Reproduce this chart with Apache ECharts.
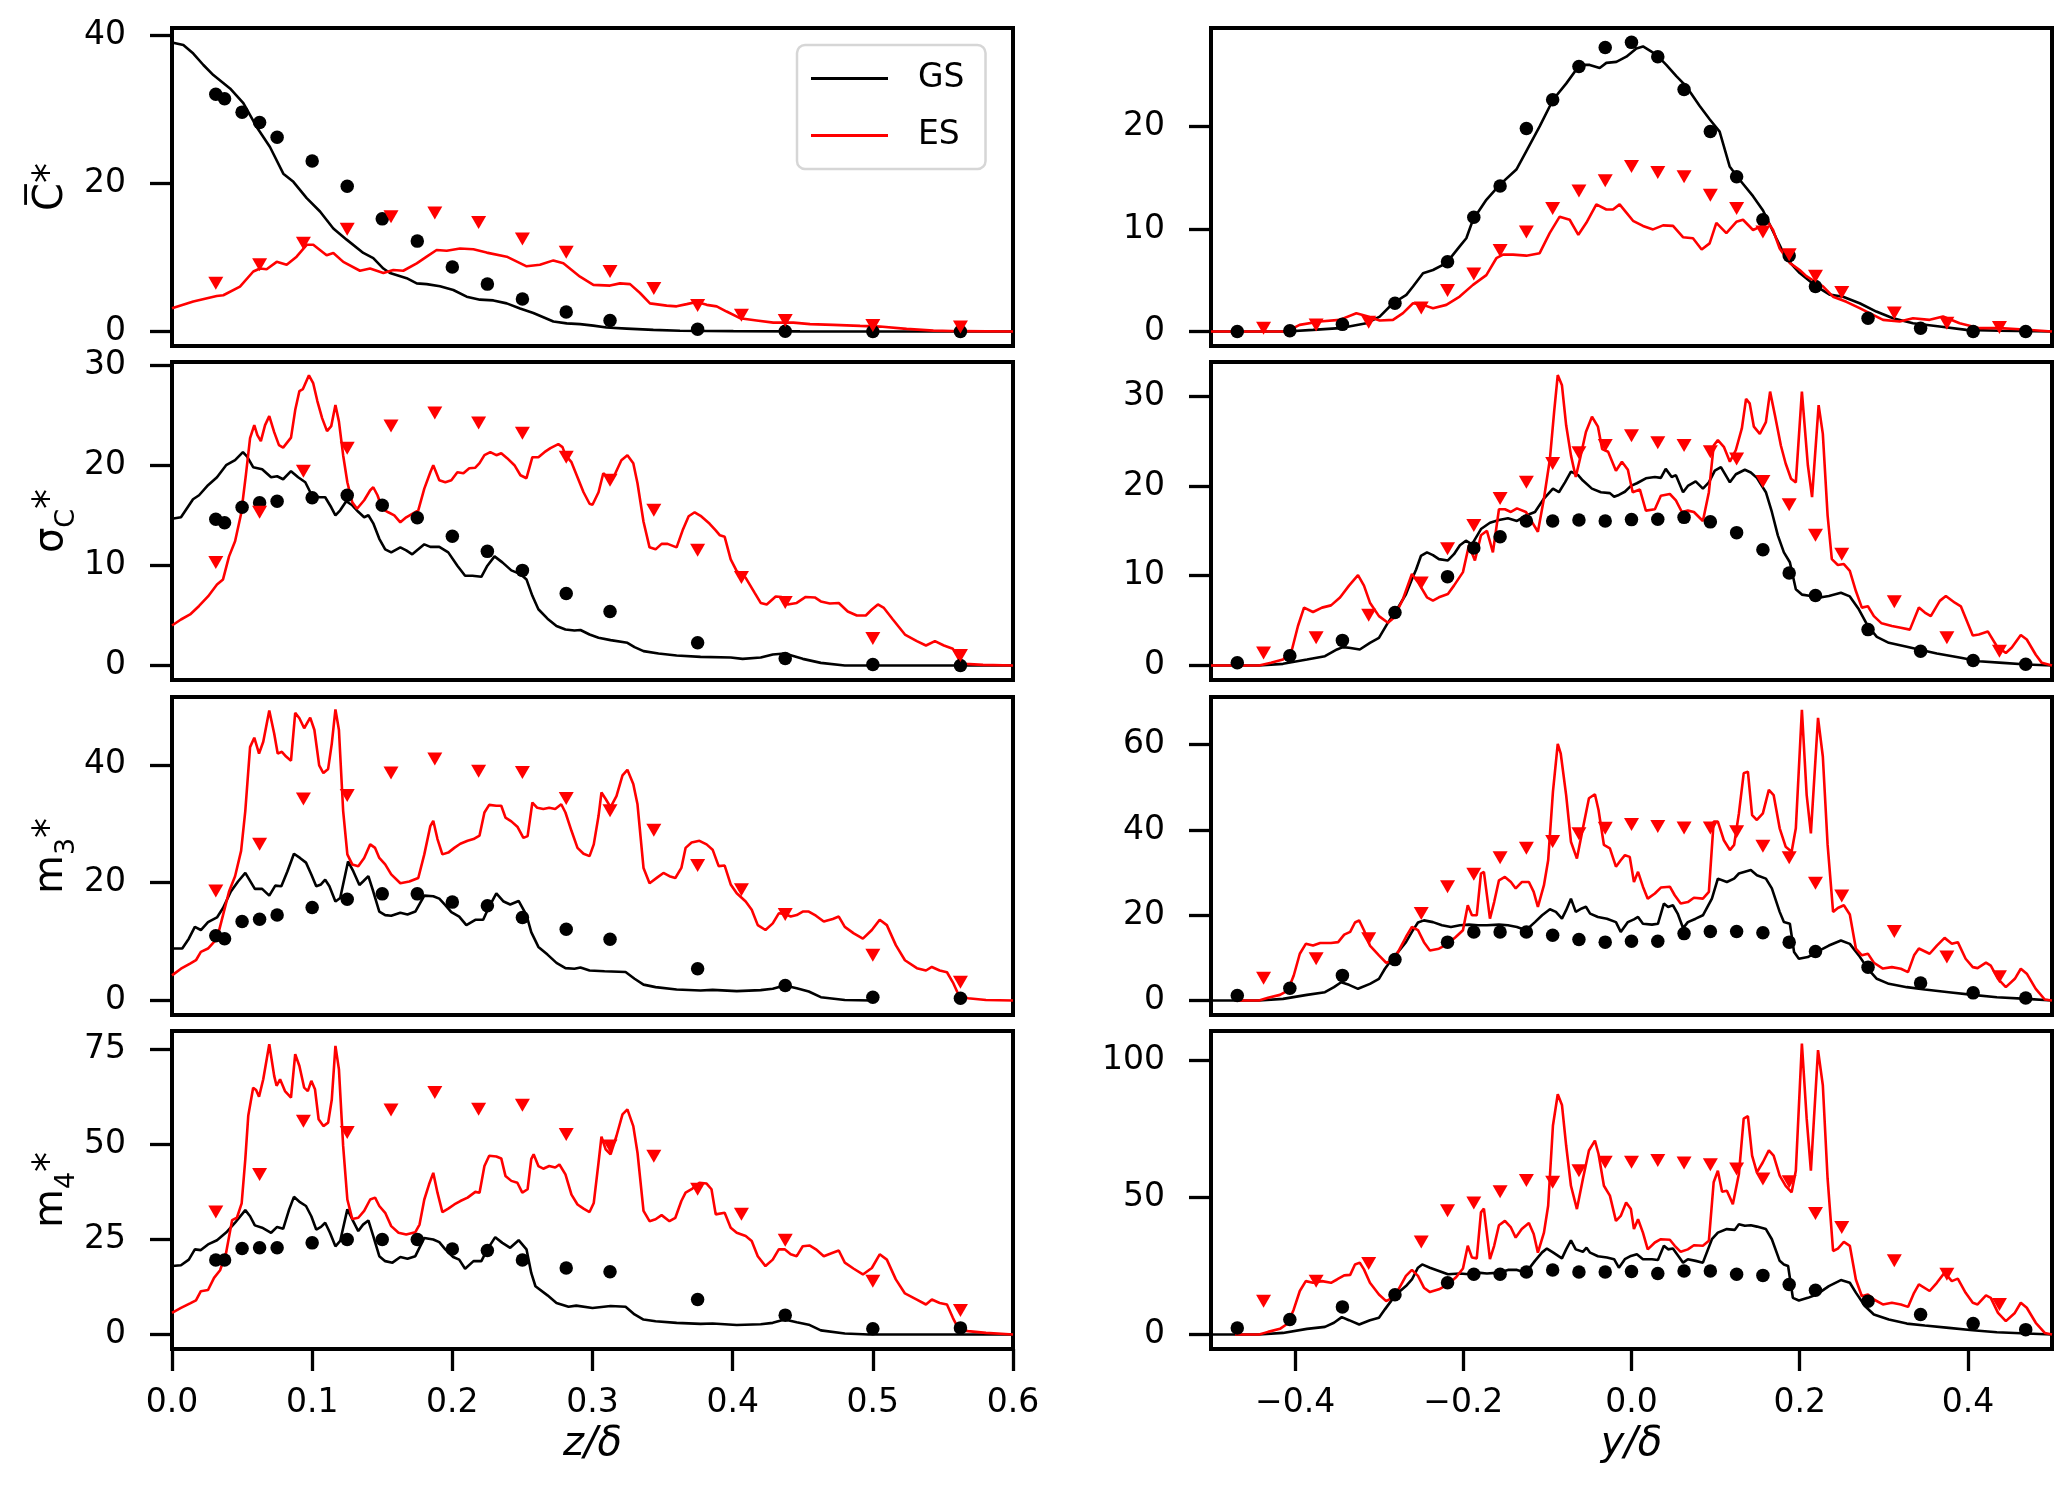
<!DOCTYPE html>
<html><head><meta charset="utf-8">
<script src="https://cdn.jsdelivr.net/npm/echarts@6/dist/echarts.min.js"></script>
<style>html,body{margin:0;padding:0;background:#fff}#c{width:2067px;height:1500px}</style>
</head><body><div id="c"></div>
<script>
// ---------- marker positions ----------
const zDots = [0.03125,0.0375,0.05,0.0625,0.075,0.1,0.125,0.15,0.175,0.2,0.225,0.25,0.28125,0.3125,0.375,0.4375,0.5,0.5625];
const zTris = [0.03125,0.0625,0.09375,0.125,0.15625,0.1875,0.21875,0.25,0.28125,0.3125,0.34375,0.375,0.40625,0.4375,0.5,0.5625];
const yDots = [-0.46875,-0.40625,-0.34375,-0.28125,-0.21875,-0.1875,-0.15625,-0.125,-0.09375,-0.0625,-0.03125,0,0.03125,0.0625,0.09375,0.125,0.15625,0.1875,0.21875,0.28125,0.34375,0.40625,0.46875];
const yTris = [-0.4375,-0.375,-0.3125,-0.25,-0.21875,-0.1875,-0.15625,-0.125,-0.09375,-0.0625,-0.03125,0,0.03125,0.0625,0.09375,0.125,0.15625,0.1875,0.21875,0.25,0.3125,0.375,0.4375];

// ---------- marker values ----------
const meanZ_dots = [32.0,31.4,29.6,28.2,26.2,23.0,19.6,15.2,12.2,8.7,6.4,4.4,2.65,1.5,0.3,0.05,0,0];
const meanZ_tris = [6.5,9.0,11.9,13.8,15.5,16.0,14.7,12.5,10.7,8.1,5.8,3.5,2.2,1.5,0.8,0.6];
const sigmaZ_dots = [14.6,14.25,15.8,16.25,16.4,16.75,17.0,16.0,14.75,12.9,11.4,9.5,7.2,5.4,2.27,0.7,0.1,0];
const sigmaZ_tris = [10.3,15.3,19.4,21.7,23.9,25.2,24.2,23.2,20.8,18.5,15.5,11.5,8.8,6.3,2.7,1.0];
const m3Z_dots = [11.0,10.5,13.4,13.8,14.5,15.8,17.2,18.1,18.1,16.7,16.1,14.1,12.1,10.4,5.4,2.56,0.57,0.4];
const m3Z_tris = [18.6,26.5,34.2,34.8,38.6,41.0,38.9,38.7,34.3,32.2,28.9,22.9,18.8,14.6,7.7,3.1];
const m4Z_dots = [19.6,19.6,22.6,22.8,22.8,24.1,25.0,25.0,25.0,22.5,22.1,19.6,17.5,16.5,9.2,5.1,1.5,1.75];
const m4Z_tris = [32.2,42.1,56.1,53.1,59.0,63.6,59.2,60.3,52.6,49.6,46.9,38.2,31.6,24.8,14.0,6.3];

const meanY_dots = [0,0.07,0.7,2.76,6.8,11.15,14.2,19.8,22.6,25.85,27.7,28.2,26.8,23.6,19.5,15.1,10.9,7.4,4.4,1.3,0.33,0,0];
const meanY_tris = [0.33,0.65,0.9,2.3,4.0,5.6,7.9,9.7,12.0,13.7,14.7,16.1,15.5,15.1,13.3,12.0,9.7,7.5,5.4,3.8,1.8,0.8,0.4];
const sigmaY_dots = [0.3,1.1,2.8,5.9,9.9,13.1,14.35,16.1,16.1,16.2,16.1,16.25,16.3,16.5,16.0,14.8,12.9,10.3,7.8,4.0,1.6,0.56,0.15];
const sigmaY_tris = [1.4,3.1,5.6,9.2,13.0,15.6,18.6,20.4,22.5,23.7,24.5,25.6,24.8,24.5,23.8,23.0,20.5,17.9,14.5,12.4,7.1,3.1,1.6];
const m3Y_dots = [1.2,2.9,5.9,9.6,13.7,16.1,16.1,16.1,15.3,14.3,13.7,13.9,13.9,15.7,16.2,16.2,15.9,13.7,11.5,7.8,4.1,1.8,0.6];
const m3Y_tris = [5.25,9.8,14.5,20.4,26.7,29.6,33.5,35.7,37.3,39.1,40.4,41.3,40.8,40.5,40.5,39.6,36.2,33.5,27.5,24.5,16.2,10.2,5.6];
const m4Y_dots = [2.4,5.5,10.1,14.5,18.9,22.0,22.0,22.8,23.6,22.8,22.8,23.0,22.3,23.2,23.2,22.0,21.6,18.3,16.2,12.2,7.3,4.0,1.8];
const m4Y_tris = [12.2,19.5,25.9,33.8,45.2,48.0,52.1,56.2,55.6,59.8,62.9,62.9,63.5,62.6,62.0,60.4,56.8,55.8,44.2,39.1,26.9,22.0,11.0];

// ---------- line profiles [x, value] ----------
const meanZ_GS = [[0,39.0],[0.0081,38.65],[0.0152,37.5],[0.0224,35.96],[0.0295,34.6],[0.0414,32.8],[0.0509,30.8],[0.0604,27.6],[0.0699,24.9],[0.0794,21.3],[0.0866,20.2],[0.0961,18.0],[0.1056,16.2],[0.1151,13.9],[0.1246,12.4],[0.1365,10.6],[0.1436,9.9],[0.1508,8.5],[0.1555,7.9],[0.1674,7.2],[0.1746,6.5],[0.1817,6.4],[0.1912,6.1],[0.2007,5.6],[0.2102,4.7],[0.2197,4.3],[0.2293,4.2],[0.2388,3.8],[0.2483,3.1],[0.2578,2.5],[0.2721,1.35],[0.2816,1.1],[0.2911,1.0],[0.3006,0.8],[0.3101,0.54],[0.3244,0.4],[0.3434,0.22],[0.3624,0.1],[0.4005,0.05],[0.448,0.02],[0.6,0]];
const meanZ_ES = [[0,3.15],[0.0152,4.05],[0.0319,4.8],[0.0366,4.9],[0.0485,6.07],[0.058,8.1],[0.0628,8.5],[0.0675,8.4],[0.0747,9.4],[0.0818,9.0],[0.0889,10.1],[0.0961,11.7],[0.1008,11.7],[0.1103,10.3],[0.1151,10.6],[0.1222,9.4],[0.1341,8.2],[0.1413,8.5],[0.1508,7.9],[0.1579,8.3],[0.165,8.2],[0.1746,9.2],[0.1817,10.1],[0.1888,11.0],[0.196,10.9],[0.2055,11.2],[0.215,11.1],[0.2245,10.65],[0.2388,10.1],[0.253,8.8],[0.2625,9.0],[0.2721,9.6],[0.2792,9.2],[0.2911,7.4],[0.3006,6.3],[0.3125,6.2],[0.3196,6.5],[0.3268,6.4],[0.3339,5.2],[0.341,3.8],[0.3529,3.5],[0.36,3.4],[0.3672,3.7],[0.3743,4.0],[0.3815,3.6],[0.3886,3.4],[0.3957,2.7],[0.4052,1.8],[0.4171,1.5],[0.429,1.2],[0.4433,1.2],[0.4552,1.0],[0.4718,0.9],[0.4909,0.76],[0.5051,0.67],[0.5241,0.36],[0.5432,0.13],[0.5622,0.05],[0.6,0]];

const sigmaZ_GS = [[0,14.65],[0.0064,14.8],[0.015,16.6],[0.0193,17.0],[0.0257,18.0],[0.0321,18.8],[0.0386,20.0],[0.045,20.5],[0.0506,21.3],[0.0536,20.85],[0.0579,19.8],[0.0643,19.6],[0.0707,18.8],[0.075,18.9],[0.0793,18.6],[0.0849,19.4],[0.09,18.8],[0.0951,18.3],[0.0994,17.1],[0.105,16.8],[0.1093,16.8],[0.1136,15.8],[0.1166,15.0],[0.12,15.5],[0.1243,16.4],[0.1286,16.0],[0.1329,15.35],[0.1371,14.8],[0.1401,15.0],[0.1436,14.2],[0.1479,12.65],[0.1521,11.6],[0.1564,11.3],[0.1629,11.8],[0.1671,11.5],[0.1714,11.1],[0.1757,11.6],[0.18,12.1],[0.1843,11.85],[0.1907,11.85],[0.1971,11.3],[0.2036,9.97],[0.2091,8.96],[0.2143,8.96],[0.2207,8.86],[0.225,9.97],[0.2301,10.9],[0.2357,10.3],[0.2421,9.5],[0.2486,9.13],[0.2529,8.6],[0.2571,6.96],[0.2614,5.62],[0.2679,4.68],[0.2743,3.95],[0.2807,3.6],[0.2871,3.5],[0.2914,3.55],[0.2979,3.1],[0.3043,2.78],[0.3129,2.54],[0.3249,2.27],[0.33,1.84],[0.3364,1.44],[0.3471,1.2],[0.36,1.0],[0.3771,0.87],[0.3986,0.8],[0.4071,0.67],[0.42,0.8],[0.4286,1.1],[0.4371,1.2],[0.45,0.67],[0.4629,0.27],[0.48,0],[0.6,0]];
const sigmaZ_ES = [[0,4.0],[0.0064,4.6],[0.0129,5.1],[0.0193,5.95],[0.0257,6.9],[0.0321,8.1],[0.0364,8.6],[0.0407,10.9],[0.045,12.4],[0.0493,15.15],[0.0527,19.0],[0.0557,22.7],[0.0587,24.0],[0.0609,23.0],[0.0634,22.4],[0.0664,24.0],[0.0694,24.9],[0.0729,23.3],[0.0763,22.0],[0.0793,21.75],[0.0849,22.75],[0.0879,25.5],[0.0909,27.4],[0.0934,27.6],[0.0977,28.97],[0.1007,28.2],[0.1037,26.4],[0.1071,24.7],[0.1106,23.4],[0.1136,23.9],[0.1166,26.0],[0.1191,24.35],[0.1221,21.0],[0.1251,18.3],[0.1286,16.3],[0.132,15.65],[0.1371,16.5],[0.1414,17.5],[0.1436,17.8],[0.1466,17.0],[0.15,15.65],[0.1543,15.3],[0.1586,15.0],[0.1629,14.3],[0.1671,14.8],[0.1714,15.15],[0.1757,15.5],[0.18,17.66],[0.1843,19.3],[0.1864,20.0],[0.1907,18.5],[0.195,18.3],[0.1993,18.5],[0.2036,19.3],[0.2079,19.2],[0.2121,19.7],[0.2164,19.75],[0.2194,20.2],[0.2229,21.0],[0.2271,21.3],[0.2314,21.0],[0.2349,21.2],[0.2391,20.7],[0.2443,20.0],[0.2486,19.0],[0.2529,18.7],[0.2571,20.8],[0.2614,20.8],[0.2657,21.3],[0.27,21.7],[0.2756,22.1],[0.2786,21.8],[0.2807,21.0],[0.285,20.3],[0.2893,18.8],[0.2936,17.3],[0.2979,16.15],[0.3,16.05],[0.3043,17.3],[0.3077,19.2],[0.3107,18.8],[0.315,18.8],[0.3206,20.5],[0.3249,21.0],[0.3291,20.2],[0.3321,18.2],[0.3364,14.35],[0.3407,11.8],[0.345,11.6],[0.3493,12.15],[0.3536,12.15],[0.36,11.8],[0.3643,13.5],[0.3686,14.9],[0.3729,15.3],[0.3771,14.95],[0.3836,14.15],[0.3879,13.5],[0.3909,13.0],[0.3943,12.85],[0.3986,10.6],[0.4029,9.43],[0.4093,8.76],[0.4157,7.25],[0.42,6.25],[0.4243,6.1],[0.4307,6.9],[0.435,6.85],[0.4393,6.1],[0.4457,6.25],[0.4521,6.85],[0.4586,6.8],[0.4629,6.4],[0.4693,6.2],[0.4757,6.25],[0.4821,5.4],[0.4886,5.0],[0.495,5.0],[0.4993,5.6],[0.5036,6.1],[0.5079,5.75],[0.5143,4.6],[0.5229,3.1],[0.5314,2.44],[0.5379,2.0],[0.5443,2.44],[0.5507,2.0],[0.5571,1.67],[0.5623,0.43],[0.5657,0.17],[0.5786,0.07],[0.6,0]];

const m3Z_GS = [[0,8.83],[0.0073,8.83],[0.012,10.5],[0.0163,12.5],[0.0206,11.97],[0.0257,13.3],[0.0321,14.1],[0.0364,15.7],[0.042,18.5],[0.0471,20.2],[0.0523,21.65],[0.0557,20.3],[0.0591,18.95],[0.0643,18.95],[0.0694,17.8],[0.0737,19.5],[0.078,19.4],[0.0823,21.9],[0.087,24.9],[0.0913,24.2],[0.0956,23.4],[0.0994,21.4],[0.1029,19.4],[0.1063,19.7],[0.1093,20.5],[0.1123,19.4],[0.1166,16.8],[0.12,17.4],[0.1256,23.6],[0.1294,21.9],[0.1337,19.6],[0.1363,20.2],[0.1401,21.1],[0.1436,18.5],[0.1479,15.1],[0.1521,14.5],[0.1564,14.4],[0.1629,14.9],[0.168,14.6],[0.1736,15.1],[0.18,17.8],[0.1864,17.7],[0.1907,17.3],[0.195,16.2],[0.1993,15.0],[0.2049,14.25],[0.21,12.8],[0.2164,13.7],[0.222,13.7],[0.2263,15.95],[0.2314,18.2],[0.2366,16.8],[0.2413,16.3],[0.2473,16.9],[0.2529,14.5],[0.2563,11.6],[0.2614,9.1],[0.2679,7.8],[0.2743,6.4],[0.2807,5.5],[0.2871,5.4],[0.2914,5.6],[0.2979,5.1],[0.3086,4.96],[0.3236,4.84],[0.33,3.7],[0.3364,2.7],[0.345,2.28],[0.36,1.88],[0.3771,1.71],[0.3857,1.82],[0.4029,1.6],[0.42,1.77],[0.4286,2.0],[0.4371,2.56],[0.4457,2.1],[0.4543,1.54],[0.4629,0.57],[0.48,0.1],[0.4993,0]];
const m3Z_ES = [[0,4.27],[0.0064,5.41],[0.0129,6.27],[0.0171,6.84],[0.0206,8.26],[0.0257,8.83],[0.0321,10.5],[0.0364,14.5],[0.0407,18.5],[0.045,21.1],[0.0493,25.4],[0.0523,32.2],[0.0557,43.0],[0.0587,44.6],[0.0621,41.9],[0.0651,43.9],[0.0694,49.2],[0.0729,45.3],[0.0754,41.9],[0.0784,42.2],[0.0814,41.4],[0.0849,40.7],[0.0879,48.8],[0.0909,47.9],[0.0943,46.2],[0.0986,48.0],[0.1016,45.9],[0.105,39.9],[0.108,38.6],[0.1114,39.3],[0.114,43.6],[0.1166,49.4],[0.1191,45.9],[0.1221,32.2],[0.1251,24.8],[0.1286,23.1],[0.1329,22.8],[0.1371,24.2],[0.1414,26.5],[0.1449,25.9],[0.1479,24.2],[0.1521,23.1],[0.1564,21.4],[0.1629,19.9],[0.1693,20.2],[0.1757,20.8],[0.18,24.8],[0.1843,29.6],[0.1864,30.5],[0.1894,27.4],[0.1929,24.8],[0.1971,25.1],[0.2014,25.9],[0.2057,26.6],[0.2109,27.1],[0.2151,27.4],[0.2194,28.0],[0.2229,31.9],[0.2263,33.2],[0.2314,33.05],[0.2349,33.05],[0.2379,31.05],[0.2421,30.4],[0.2464,29.5],[0.2507,27.6],[0.2537,27.9],[0.2571,33.6],[0.2606,32.7],[0.2649,32.5],[0.2691,32.7],[0.2734,32.5],[0.2777,33.3],[0.2807,31.9],[0.285,28.8],[0.2893,25.9],[0.2936,24.9],[0.2979,24.5],[0.3009,26.5],[0.3043,31.3],[0.3064,35.3],[0.3094,34.2],[0.3129,32.8],[0.3171,34.7],[0.3214,38.2],[0.3249,39.15],[0.3291,36.75],[0.3321,33.3],[0.3364,22.5],[0.3407,19.9],[0.3463,20.9],[0.3506,21.65],[0.3549,21.1],[0.3591,20.8],[0.3634,22.5],[0.3664,25.9],[0.3707,26.8],[0.3763,27.1],[0.3814,26.5],[0.3857,25.6],[0.39,22.8],[0.3943,22.9],[0.3986,19.7],[0.4029,18.2],[0.4093,16.8],[0.4136,15.4],[0.4179,12.8],[0.4234,11.97],[0.4286,13.1],[0.4329,14.8],[0.4371,14.7],[0.4414,14.25],[0.4457,14.5],[0.45,15.1],[0.4543,15.1],[0.4594,14.4],[0.465,13.4],[0.4714,13.85],[0.4757,14.25],[0.48,12.5],[0.4864,11.4],[0.4929,10.5],[0.4993,11.97],[0.5049,13.7],[0.51,12.8],[0.5164,9.4],[0.5229,6.84],[0.5314,5.5],[0.5379,5.1],[0.5421,5.7],[0.5477,5.1],[0.5529,4.8],[0.5571,3.1],[0.5614,0.85],[0.5679,0.4],[0.5807,0.1],[0.6,0]];

const m4Z_GS = [[0,18.0],[0.0064,18.2],[0.012,19.7],[0.0163,22.4],[0.0206,22.2],[0.0257,23.7],[0.0321,24.8],[0.0386,26.8],[0.045,29.4],[0.0523,32.7],[0.0557,31.1],[0.0591,28.7],[0.0643,28.1],[0.0707,26.75],[0.075,28.3],[0.0793,27.8],[0.0836,32.9],[0.087,36.2],[0.0913,34.8],[0.0956,33.8],[0.0994,31.1],[0.1029,27.6],[0.1063,28.3],[0.1093,29.4],[0.1127,26.75],[0.1166,23.2],[0.12,24.6],[0.1251,32.9],[0.1286,30.3],[0.1329,27.2],[0.1363,28.9],[0.1401,30.0],[0.1436,25.9],[0.1479,20.6],[0.1521,19.3],[0.1573,18.9],[0.1629,20.4],[0.168,19.9],[0.1736,20.6],[0.18,25.4],[0.1864,25.0],[0.1907,24.3],[0.195,22.4],[0.2006,20.4],[0.2049,19.7],[0.2091,17.3],[0.2151,19.3],[0.2207,19.3],[0.225,22.4],[0.2306,25.6],[0.2357,24.1],[0.2413,22.8],[0.2473,24.8],[0.2529,22.4],[0.2563,16.2],[0.2593,12.7],[0.2679,10.3],[0.2743,8.3],[0.2829,7.3],[0.2884,7.6],[0.3,7.0],[0.3129,7.5],[0.3236,7.3],[0.33,5.3],[0.3364,3.95],[0.345,3.5],[0.36,3.07],[0.3771,2.8],[0.3857,2.9],[0.4029,2.5],[0.42,2.7],[0.4286,3.07],[0.4371,3.95],[0.4457,3.25],[0.4543,2.6],[0.4629,1.1],[0.48,0.26],[0.4971,0],[0.6,0]];
const m4Z_ES = [[0,5.7],[0.0064,7.0],[0.0129,8.2],[0.0171,9.0],[0.0206,11.4],[0.0257,11.7],[0.03,14.9],[0.0343,16.9],[0.0386,21.5],[0.0429,30.1],[0.0463,30.7],[0.0497,34.5],[0.0523,46.1],[0.0544,57.5],[0.0579,64.9],[0.06,64.3],[0.0621,62.5],[0.0651,67.1],[0.0694,76.3],[0.0729,68.0],[0.0746,65.4],[0.0771,67.1],[0.0806,64.0],[0.0849,62.3],[0.0879,73.7],[0.0909,70.6],[0.0943,64.9],[0.0969,64.0],[0.0994,66.7],[0.102,64.5],[0.1046,56.6],[0.108,54.8],[0.1114,55.7],[0.114,61.8],[0.1166,75.9],[0.1191,69.7],[0.1221,49.6],[0.1251,35.5],[0.1286,30.4],[0.1329,30.7],[0.1371,32.5],[0.1414,35.5],[0.1449,36.0],[0.1479,33.8],[0.1521,32.0],[0.1564,28.5],[0.1616,26.75],[0.1671,26.3],[0.1736,26.9],[0.1766,28.9],[0.18,35.5],[0.1834,39.5],[0.1864,42.5],[0.1894,37.3],[0.1929,32.2],[0.1971,33.1],[0.2014,34.2],[0.2057,35.1],[0.2109,36.0],[0.2164,37.5],[0.2194,37.3],[0.2229,44.3],[0.2263,47.0],[0.2314,46.8],[0.2349,46.3],[0.2379,41.7],[0.2421,40.4],[0.2464,39.9],[0.2499,37.3],[0.2537,38.2],[0.2563,46.1],[0.258,47.4],[0.2614,44.3],[0.2649,43.6],[0.2691,44.3],[0.2734,43.9],[0.2764,44.7],[0.2807,42.1],[0.285,36.8],[0.2893,34.2],[0.2936,33.1],[0.2979,32.2],[0.3009,34.6],[0.3043,45.2],[0.3064,52.0],[0.3094,48.7],[0.3129,47.4],[0.3171,52.2],[0.3214,57.9],[0.3249,59.2],[0.3291,54.8],[0.3321,47.8],[0.3364,32.5],[0.3407,29.8],[0.345,30.3],[0.3493,31.4],[0.3549,29.8],[0.3591,30.7],[0.3634,35.1],[0.3664,37.3],[0.3707,38.2],[0.3763,39.9],[0.3814,39.7],[0.3849,38.2],[0.3879,31.6],[0.3943,32.0],[0.3986,28.1],[0.4029,26.75],[0.4093,25.9],[0.4136,24.6],[0.4179,20.6],[0.4234,18.0],[0.4286,19.7],[0.4329,22.4],[0.4371,22.4],[0.4414,21.1],[0.4457,20.6],[0.45,23.2],[0.4551,23.4],[0.4594,22.4],[0.465,20.6],[0.4714,21.5],[0.4757,22.1],[0.48,18.9],[0.4864,17.3],[0.4929,15.8],[0.4993,17.5],[0.5049,21.1],[0.51,19.7],[0.5164,14.5],[0.5229,10.8],[0.5314,9.2],[0.5379,7.9],[0.5421,9.2],[0.5477,8.3],[0.5529,7.9],[0.5571,4.4],[0.5614,1.3],[0.5679,0.9],[0.5807,0.44],[0.6,0]];

const meanY_GS = [[-0.5,0],[-0.4104,0],[-0.3787,0.16],[-0.347,0.33],[-0.3153,0.81],[-0.2994,1.46],[-0.2836,2.76],[-0.2677,3.58],[-0.2598,4.39],[-0.2479,5.69],[-0.236,6.0],[-0.2202,6.67],[-0.2043,8.3],[-0.1964,9.1],[-0.1885,10.9],[-0.1726,12.85],[-0.1568,14.3],[-0.1369,15.8],[-0.125,17.6],[-0.1092,20.0],[-0.0933,22.6],[-0.0775,24.2],[-0.0617,26.0],[-0.0497,26.0],[-0.0378,25.7],[-0.0299,26.2],[-0.018,26.3],[-0.0061,26.8],[0.0058,27.6],[0.0137,27.8],[0.0295,27.0],[0.0414,26.0],[0.0533,24.9],[0.0652,23.9],[0.0811,22.0],[0.0929,20.7],[0.1048,19.5],[0.1167,16.1],[0.1286,14.8],[0.1445,13.2],[0.1564,11.8],[0.1722,9.1],[0.1841,7.1],[0.2,5.7],[0.2198,4.4],[0.2356,3.6],[0.2515,3.4],[0.2713,2.76],[0.2911,1.95],[0.3109,1.3],[0.3347,0.81],[0.3664,0.49],[0.3981,0.16],[0.4378,0.07],[0.5,0]];
const meanY_ES = [[-0.5,0],[-0.4104,0],[-0.3946,0.65],[-0.3708,0.98],[-0.347,1.14],[-0.3272,1.79],[-0.3153,1.52],[-0.2994,1.07],[-0.2836,1.14],[-0.2717,1.79],[-0.2598,2.76],[-0.2479,2.6],[-0.236,2.28],[-0.2202,2.6],[-0.2043,3.41],[-0.1885,4.55],[-0.1726,5.5],[-0.1607,7.15],[-0.1528,7.5],[-0.1409,7.5],[-0.125,7.4],[-0.1092,7.64],[-0.0973,9.6],[-0.0854,11.2],[-0.0735,10.9],[-0.0632,9.43],[-0.0537,10.6],[-0.0418,12.4],[-0.0299,11.9],[-0.022,11.9],[-0.0141,12.4],[-0.0061,11.6],[0.0018,10.8],[0.0137,10.3],[0.0256,9.96],[0.0375,10.35],[0.0494,10.3],[0.0612,9.2],[0.0731,9.1],[0.0834,8.0],[0.0929,8.6],[0.1009,10.6],[0.1128,9.6],[0.1247,10.7],[0.1326,10.9],[0.1445,9.9],[0.154,10.25],[0.1603,10.9],[0.1683,9.9],[0.1762,8.1],[0.1881,6.7],[0.2,6.0],[0.2079,5.4],[0.2158,5.0],[0.2277,4.4],[0.2396,3.4],[0.2555,2.9],[0.2713,2.28],[0.2872,1.63],[0.2991,1.14],[0.3189,0.98],[0.3347,1.3],[0.3545,1.14],[0.3704,1.46],[0.3902,0.81],[0.414,0.33],[0.4378,0.33],[0.4616,0.23],[0.5,0]];

const sigmaY_GS = [[-0.5,0],[-0.4429,0],[-0.4144,0.19],[-0.3859,0.67],[-0.3645,1.04],[-0.3502,1.79],[-0.3431,2.05],[-0.3359,1.98],[-0.3231,1.79],[-0.311,2.53],[-0.3003,3.09],[-0.2896,4.77],[-0.2789,6.26],[-0.2682,7.94],[-0.2611,9.6],[-0.2561,10.7],[-0.2504,12.2],[-0.2432,12.6],[-0.2361,12.3],[-0.229,11.85],[-0.2183,11.7],[-0.2111,12.4],[-0.204,13.4],[-0.1969,13.9],[-0.1897,13.5],[-0.179,15.2],[-0.1683,15.9],[-0.1576,16.2],[-0.1469,16.4],[-0.1362,16.1],[-0.1255,16.7],[-0.1148,17.1],[-0.1041,18.6],[-0.0934,19.7],[-0.0863,19.3],[-0.0791,20.4],[-0.072,21.6],[-0.0635,21.2],[-0.0578,20.6],[-0.0471,19.7],[-0.0364,19.3],[-0.0257,19.2],[-0.0207,18.8],[-0.015,19.0],[-0.0079,19.35],[-0.0007,20.0],[0.0064,20.3],[0.0171,20.85],[0.0278,21.0],[0.0349,20.9],[0.0407,21.9],[0.0478,21.0],[0.0528,21.2],[0.0613,19.3],[0.067,20.0],[0.0763,20.5],[0.0849,19.7],[0.092,20.4],[0.0991,21.7],[0.1063,22.1],[0.117,20.4],[0.1241,21.3],[0.1348,21.8],[0.1419,21.5],[0.1491,20.9],[0.1598,19.3],[0.1669,17.1],[0.174,14.5],[0.1812,12.6],[0.1883,11.5],[0.1954,8.5],[0.2026,7.9],[0.2133,7.75],[0.224,7.57],[0.2347,7.75],[0.249,8.1],[0.2596,7.7],[0.2703,6.26],[0.2811,4.4],[0.2917,3.2],[0.306,2.53],[0.3274,2.09],[0.3417,1.79],[0.3631,1.34],[0.3916,0.86],[0.413,0.48],[0.4415,0.3],[0.47,0.11],[0.5,0]];
const sigmaY_ES = [[-0.5,0],[-0.4429,0],[-0.4287,0.3],[-0.4144,0.67],[-0.4037,1.79],[-0.3966,4.4],[-0.3894,6.45],[-0.3787,5.96],[-0.368,6.45],[-0.3573,6.7],[-0.3466,7.57],[-0.3359,8.9],[-0.3252,10.06],[-0.3181,8.9],[-0.311,7.0],[-0.3003,5.5],[-0.2896,4.77],[-0.2825,5.33],[-0.2718,7.38],[-0.2611,10.2],[-0.2539,9.28],[-0.2432,7.6],[-0.2361,7.23],[-0.229,7.6],[-0.2183,7.97],[-0.2111,8.9],[-0.2004,10.4],[-0.1933,13.4],[-0.1862,11.7],[-0.179,14.5],[-0.1719,15.0],[-0.1648,12.6],[-0.1576,17.4],[-0.1505,17.4],[-0.1434,17.1],[-0.1362,17.5],[-0.1255,17.1],[-0.1184,16.0],[-0.1113,14.9],[-0.1041,18.6],[-0.097,23.0],[-0.092,28.25],[-0.0877,32.35],[-0.0827,31.2],[-0.0777,26.75],[-0.072,23.4],[-0.0663,21.0],[-0.0613,23.0],[-0.0542,26.0],[-0.047,27.7],[-0.0399,26.6],[-0.0349,24.1],[-0.0278,23.8],[-0.0185,21.7],[-0.0114,22.7],[-0.0043,21.8],[0.0014,19.3],[0.01,19.6],[0.0171,17.25],[0.0278,17.4],[0.0349,18.9],[0.0456,19.1],[0.0528,18.4],[0.0599,17.1],[0.067,17.25],[0.0742,17.1],[0.0849,16.1],[0.092,19.3],[0.0977,24.5],[0.1027,25.1],[0.1098,24.35],[0.117,22.7],[0.1241,24.0],[0.1312,26.4],[0.1362,29.7],[0.1405,29.2],[0.1455,26.6],[0.1526,25.8],[0.1598,27.1],[0.1648,30.5],[0.1705,27.9],[0.1776,24.5],[0.1833,22.5],[0.1897,20.8],[0.1954,20.4],[0.2026,30.5],[0.2097,22.3],[0.2147,18.75],[0.2225,29.0],[0.2275,25.8],[0.2332,16.7],[0.2382,11.85],[0.2454,11.2],[0.2525,11.3],[0.2596,10.55],[0.2668,8.3],[0.2739,6.45],[0.2811,6.6],[0.2882,5.5],[0.2974,4.7],[0.3096,4.4],[0.3203,4.2],[0.331,4.0],[0.3417,6.45],[0.3488,5.9],[0.3559,5.5],[0.3666,7.2],[0.3738,7.75],[0.3845,7.0],[0.3916,6.6],[0.4058,3.35],[0.413,3.46],[0.4237,3.8],[0.4344,2.15],[0.4451,1.4],[0.4522,2.0],[0.4629,3.4],[0.47,2.9],[0.4807,1.2],[0.4879,0.3],[0.5,0]];

const m3Y_GS = [[-0.5,0],[-0.4429,0],[-0.4144,0.39],[-0.3859,1.33],[-0.3645,1.96],[-0.3538,3.14],[-0.3452,4.3],[-0.3359,3.69],[-0.3252,2.75],[-0.311,3.92],[-0.3003,5.1],[-0.2932,7.45],[-0.286,9.4],[-0.2775,11.4],[-0.2682,13.7],[-0.2611,16.1],[-0.2539,18.3],[-0.2468,18.8],[-0.2361,18.4],[-0.2254,17.65],[-0.2147,17.25],[-0.204,17.65],[-0.1933,17.8],[-0.1826,17.65],[-0.1719,17.65],[-0.1576,17.8],[-0.1469,17.65],[-0.1362,17.25],[-0.1255,16.5],[-0.1148,18.4],[-0.1063,20.0],[-0.097,21.4],[-0.0899,20.8],[-0.0827,19.2],[-0.0777,21.2],[-0.072,23.9],[-0.0663,20.8],[-0.0592,21.6],[-0.0542,22.0],[-0.0492,20.4],[-0.0399,19.6],[-0.0292,19.2],[-0.0185,18.4],[-0.0128,16.1],[-0.0043,18.4],[0.0029,19.05],[0.0078,19.6],[0.0136,18.0],[0.0243,17.8],[0.0314,18.0],[0.0385,22.75],[0.0435,21.96],[0.0492,22.35],[0.0549,20.4],[0.0613,17.0],[0.067,18.4],[0.0763,19.2],[0.0849,20.0],[0.0956,23.9],[0.1027,28.6],[0.1134,27.8],[0.122,28.6],[0.1277,29.8],[0.1348,30.2],[0.1419,30.6],[0.1491,29.4],[0.1598,28.6],[0.1669,26.3],[0.1762,20.8],[0.1812,18.4],[0.1883,18.0],[0.1933,11.4],[0.199,9.8],[0.2097,10.2],[0.2204,11.4],[0.2347,12.9],[0.249,14.1],[0.2596,13.3],[0.2703,10.6],[0.2811,7.45],[0.2917,5.1],[0.306,3.92],[0.3274,3.14],[0.3488,2.6],[0.3773,1.96],[0.4058,1.33],[0.4344,0.78],[0.47,0.39],[0.5,0]];
const m3Y_ES = [[-0.4715,0],[-0.4429,0],[-0.4322,0.63],[-0.418,1.33],[-0.4087,2.35],[-0.4016,5.88],[-0.3944,10.98],[-0.3873,13.3],[-0.3787,12.9],[-0.3702,13.5],[-0.3573,13.5],[-0.3488,13.7],[-0.3416,15.45],[-0.3345,16.1],[-0.3288,18.3],[-0.3238,18.8],[-0.3181,16.5],[-0.311,12.9],[-0.3003,10.6],[-0.2917,8.86],[-0.2846,9.4],[-0.2775,11.4],[-0.2682,14.9],[-0.2611,17.25],[-0.2539,16.5],[-0.2468,13.7],[-0.2397,11.76],[-0.229,12.16],[-0.2183,13.3],[-0.209,14.9],[-0.2004,16.5],[-0.1947,22.35],[-0.1897,20.0],[-0.184,20.0],[-0.179,29.8],[-0.1755,30.2],[-0.1683,19.2],[-0.1633,23.1],[-0.1576,28.2],[-0.1505,29.0],[-0.1434,27.8],[-0.1377,26.3],[-0.1305,27.8],[-0.122,27.8],[-0.1163,25.5],[-0.1113,21.96],[-0.1041,27.06],[-0.0991,32.9],[-0.0934,49.0],[-0.0877,60.2],[-0.0842,58.0],[-0.0777,48.2],[-0.072,37.25],[-0.0649,33.3],[-0.0578,40.4],[-0.0506,47.45],[-0.0435,48.4],[-0.0392,44.7],[-0.0328,36.5],[-0.0257,35.7],[-0.0185,31.4],[-0.0128,32.9],[-0.0078,34.1],[-0.0021,33.7],[0.0029,27.8],[0.0078,30.2],[0.0136,26.7],[0.0193,23.9],[0.0278,25.1],[0.0349,26.5],[0.0456,26.7],[0.0514,24.7],[0.0585,22.75],[0.067,23.1],[0.0742,24.1],[0.0849,23.9],[0.092,25.5],[0.0977,41.96],[0.1027,41.96],[0.1098,37.6],[0.117,35.3],[0.122,36.5],[0.1277,43.9],[0.1334,53.3],[0.1384,53.7],[0.1434,43.5],[0.1491,42.35],[0.1562,43.9],[0.1633,49.4],[0.169,48.2],[0.1762,40.4],[0.1833,36.1],[0.1904,34.9],[0.1954,40.4],[0.2026,68.2],[0.2083,48.2],[0.2133,39.2],[0.2218,66.3],[0.2275,57.25],[0.2332,36.5],[0.2397,20.8],[0.2454,21.7],[0.2525,22.35],[0.2596,20.2],[0.2668,12.2],[0.2739,10.6],[0.2811,11.0],[0.2882,8.86],[0.2989,7.5],[0.3096,7.84],[0.3203,7.45],[0.3288,6.67],[0.336,10.6],[0.3417,12.2],[0.3545,10.98],[0.3631,12.9],[0.3723,14.7],[0.3809,13.3],[0.388,13.7],[0.3973,9.8],[0.4058,7.84],[0.4115,7.6],[0.4215,8.9],[0.4272,8.2],[0.4358,5.1],[0.4451,3.14],[0.4558,5.1],[0.4629,7.45],[0.47,6.3],[0.4807,2.75],[0.4914,0.24],[0.5,0]];

const m4Y_GS = [[-0.5,0],[-0.4429,0],[-0.4144,0.6],[-0.3859,2.08],[-0.3645,2.8],[-0.3538,4.3],[-0.3445,6.35],[-0.3359,5.25],[-0.3238,3.66],[-0.311,5.25],[-0.3003,6.1],[-0.2932,9.2],[-0.286,12.2],[-0.2775,15.3],[-0.2682,17.7],[-0.2611,20.1],[-0.2539,24.4],[-0.2489,25.6],[-0.2397,24.4],[-0.229,23.2],[-0.2183,22.0],[-0.204,22.3],[-0.1933,22.0],[-0.1826,22.6],[-0.1719,22.3],[-0.1576,22.6],[-0.1469,23.6],[-0.1362,23.6],[-0.1255,22.6],[-0.1148,26.9],[-0.1063,30.0],[-0.1006,31.4],[-0.0934,30.0],[-0.0827,27.8],[-0.0777,31.1],[-0.072,34.4],[-0.0663,31.1],[-0.0578,30.2],[-0.0535,31.7],[-0.0492,29.9],[-0.0399,28.6],[-0.0292,28.1],[-0.0207,27.5],[-0.015,24.4],[-0.0079,27.5],[-0.0007,28.7],[0.0064,29.3],[0.0136,27.5],[0.0243,27.5],[0.0314,27.2],[0.0385,32.4],[0.0435,31.1],[0.0492,31.4],[0.0563,28.4],[0.0613,26.25],[0.067,27.5],[0.0763,26.9],[0.0849,26.25],[0.0956,34.8],[0.1027,37.2],[0.1134,38.5],[0.1227,38.2],[0.1277,40.3],[0.1348,39.7],[0.1419,39.9],[0.1491,39.4],[0.1598,38.5],[0.1669,34.8],[0.1762,26.9],[0.1812,25.6],[0.1862,25.0],[0.1919,13.4],[0.199,12.45],[0.2097,13.4],[0.2204,14.65],[0.2347,17.7],[0.249,19.9],[0.2596,18.9],[0.2668,15.3],[0.2775,10.4],[0.2882,7.3],[0.306,5.5],[0.3274,4.0],[0.3488,3.3],[0.3773,2.44],[0.4058,1.6],[0.4344,0.85],[0.47,0.37],[0.5,0]];
const m4Y_ES = [[-0.4715,0],[-0.4429,0],[-0.4322,0.98],[-0.418,2.08],[-0.4087,4.03],[-0.4016,9.16],[-0.3944,15.9],[-0.3873,19.5],[-0.3787,18.9],[-0.368,19.5],[-0.3573,18.9],[-0.3502,20.1],[-0.3416,21.6],[-0.3345,21.8],[-0.3288,25.6],[-0.3231,26.25],[-0.3181,23.8],[-0.311,18.9],[-0.3003,14.65],[-0.2917,12.2],[-0.2846,13.4],[-0.2775,16.2],[-0.2682,21.4],[-0.2611,23.6],[-0.2539,21.4],[-0.2468,17.1],[-0.2397,15.5],[-0.229,16.5],[-0.2183,18.3],[-0.209,20.8],[-0.2004,24.1],[-0.1947,32.4],[-0.1897,28.1],[-0.184,27.8],[-0.179,44.6],[-0.1755,46.0],[-0.1683,27.5],[-0.1633,32.4],[-0.1576,39.9],[-0.1505,41.5],[-0.1434,39.1],[-0.1377,35.4],[-0.1305,38.5],[-0.122,40.7],[-0.1163,36.7],[-0.1113,29.9],[-0.1041,37.2],[-0.0991,47.0],[-0.0934,76.3],[-0.0877,87.7],[-0.0827,83.8],[-0.0777,69.0],[-0.072,54.3],[-0.0649,45.8],[-0.0578,56.8],[-0.0506,67.2],[-0.0435,70.8],[-0.0392,65.9],[-0.0328,54.3],[-0.0257,50.7],[-0.0185,41.5],[-0.0128,43.3],[-0.0064,48.2],[-0.0007,45.8],[0.0029,38.5],[0.0078,42.1],[0.0136,37.2],[0.0193,31.1],[0.0278,33.6],[0.0349,34.8],[0.0456,34.6],[0.0514,32.4],[0.0585,30.2],[0.067,31.1],[0.0742,32.6],[0.0849,32.4],[0.092,34.2],[0.0977,55.6],[0.1027,59.8],[0.1077,52.1],[0.1134,52.5],[0.1205,47.6],[0.1277,58.6],[0.1334,78.8],[0.1384,79.7],[0.1434,65.3],[0.1491,59.2],[0.1562,62.9],[0.1633,67.2],[0.169,65.3],[0.1762,58.0],[0.1833,54.3],[0.1904,51.9],[0.1954,59.8],[0.2026,106.2],[0.2083,78.8],[0.2133,59.8],[0.2218,103.8],[0.2275,91.0],[0.2332,56.8],[0.2397,30.5],[0.2454,31.4],[0.2525,33.8],[0.2596,32.4],[0.2668,20.1],[0.2739,14.0],[0.2811,14.65],[0.2882,12.8],[0.2989,11.0],[0.3096,11.6],[0.3203,11.0],[0.3288,10.1],[0.336,15.25],[0.3417,18.3],[0.3545,15.9],[0.3631,18.9],[0.3723,22.6],[0.3809,19.5],[0.388,20.4],[0.3973,15.25],[0.4058,11.6],[0.4115,11.0],[0.4215,14.3],[0.4272,13.4],[0.4358,7.9],[0.4451,4.9],[0.4558,7.9],[0.4629,11.6],[0.47,9.8],[0.4807,4.3],[0.4914,0.6],[0.5,0]];

// ---------- tick labels ----------
const zTicks = [0,0.1,0.2,0.3,0.4,0.5,0.6];
const yTicks = [-0.4,-0.2,0,0.2,0.4];
const yTicksRows = [[0,20,40],[0,10,20,30],[0,20,40],[0,25,50,75]];
const yTicksRowsR = [[0,10,20],[0,10,20,30],[0,20,40,60],[0,50,100]];

// ---------- layout ----------
const FONT = 'DejaVu Sans';
const colLeft = [172, 1211], gridW = 841, rowTop = [28, 362, 697, 1031], gridH = 318;
const zip = (xs, vs) => xs.map((x, i) => [x, vs[i]]);

const panels = [
  {row:0,col:0,gs:meanZ_GS,es:meanZ_ES,dx:zDots,dv:meanZ_dots,tx:zTris,tv:meanZ_tris,yr:[-1.95,40.95],yt:yTicksRows[0],name:'{a|C\u0305*}'},
  {row:0,col:1,gs:meanY_GS,es:meanY_ES,dx:yDots,dv:meanY_dots,tx:yTris,tv:meanY_tris,yr:[-1.41,29.6],yt:yTicksRowsR[0]},
  {row:1,col:0,gs:sigmaZ_GS,es:sigmaZ_ES,dx:zDots,dv:sigmaZ_dots,tx:zTris,tv:sigmaZ_tris,yr:[-1.44,30.3],yt:yTicksRows[1],name:'{a|σ}{s|C}{a|*}'},
  {row:1,col:1,gs:sigmaY_GS,es:sigmaY_ES,dx:yDots,dv:sigmaY_dots,tx:yTris,tv:sigmaY_tris,yr:[-1.61,33.8],yt:yTicksRowsR[1]},
  {row:2,col:0,gs:m3Z_GS,es:m3Z_ES,dx:zDots,dv:m3Z_dots,tx:zTris,tv:m3Z_tris,yr:[-2.45,51.5],yt:yTicksRows[2],name:'{a|m}{s|3}{a|*}'},
  {row:2,col:1,gs:m3Y_GS,es:m3Y_ES,dx:yDots,dv:m3Y_dots,tx:yTris,tv:m3Y_tris,yr:[-3.39,71.2],yt:yTicksRowsR[2]},
  {row:3,col:0,gs:m4Z_GS,es:m4Z_ES,dx:zDots,dv:m4Z_dots,tx:zTris,tv:m4Z_tris,yr:[-3.8,79.8],yt:yTicksRows[3],name:'{a|m}{s|4}{a|*}'},
  {row:3,col:1,gs:m4Y_GS,es:m4Y_ES,dx:yDots,dv:m4Y_dots,tx:yTris,tv:m4Y_tris,yr:[-5.27,110.8],yt:yTicksRowsR[3]}
];

const fmtX = v => (v < 0 ? '\u2212' + Math.abs(v).toFixed(1) : v.toFixed(1));
const grids = [], xAxes = [], yAxes = [], series = [];
panels.forEach((p, i) => {
  const bottom = p.row === 3;
  const xt = p.col === 0 ? zTicks : yTicks;
  grids.push({left: colLeft[p.col], top: rowTop[p.row], width: gridW, height: gridH,
    show: true, borderColor: '#000', borderWidth: 4, backgroundColor: 'transparent'});
  xAxes.push({gridIndex: i, type: 'value', position: 'bottom', min: p.col === 0 ? 0 : -0.5, max: p.col === 0 ? 0.6 : 0.5,
    axisLine: {show: false, onZero: false}, splitLine: {show: false},
    axisTick: {show: bottom, length: 22, lineStyle: {width: 3.3, color: '#000'}, customValues: xt},
    axisLabel: {show: bottom, customValues: xt, formatter: fmtX, fontSize: 33, color: '#000', fontFamily: FONT, margin: 38},
    name: bottom ? (p.col === 0 ? 'z/δ' : 'y/δ') : '', nameLocation: 'middle', nameGap: 76,
    nameTextStyle: {fontSize: 40, fontStyle: 'italic', color: '#000', fontFamily: FONT}});
  yAxes.push({gridIndex: i, type: 'value', position: 'left', min: p.yr[0], max: p.yr[1],
    axisLine: {show: false, onZero: false}, splitLine: {show: false},
    axisTick: {show: true, length: 22, lineStyle: {width: 3.3, color: '#000'}, customValues: p.yt},
    axisLabel: {customValues: p.yt, fontSize: 33, color: '#000', fontFamily: FONT, margin: 46, formatter: v => String(Math.round(v))},
    name: p.name || '', nameLocation: 'middle', nameRotate: 90, nameGap: 98,
    nameTextStyle: {color: '#000', fontFamily: FONT, rich: {
      a: {fontSize: 40, fontFamily: FONT, color: '#000', lineHeight: 44},
      s: {fontSize: 27, fontFamily: FONT, color: '#000', lineHeight: 27, padding: [30, 0, 0, 0]}}}});
  series.push({type: 'line', name: 'GS', xAxisIndex: i, yAxisIndex: i, data: p.gs, showSymbol: false, symbol: 'none',
    lineStyle: {color: '#000', width: 2.6}, itemStyle: {color: '#000'}, z: 2});
  series.push({type: 'line', name: 'ES', xAxisIndex: i, yAxisIndex: i, data: p.es, showSymbol: false, symbol: 'none',
    lineStyle: {color: '#ff0000', width: 2.6}, itemStyle: {color: '#ff0000'}, z: 2});
  series.push({type: 'scatter', name: 'GS markers', xAxisIndex: i, yAxisIndex: i, data: zip(p.dx, p.dv),
    symbol: 'circle', symbolSize: 13.5, itemStyle: {color: '#000', opacity: 1}, z: 3});
  series.push({type: 'scatter', name: 'ES markers', xAxisIndex: i, yAxisIndex: i, data: zip(p.tx, p.tv),
    symbol: 'triangle', symbolRotate: 180, symbolSize: [15, 13], itemStyle: {color: '#ff0000', opacity: 1}, z: 3});
});

const chart = echarts.init(document.getElementById('c'), null, {renderer: 'canvas'});
chart.setOption({
  animation: false,
  backgroundColor: '#fff',
  grid: grids, xAxis: xAxes, yAxis: yAxes, series: series,
  legend: {data: ['GS', 'ES'], orient: 'vertical', left: 797, top: 45, itemWidth: 77, itemHeight: 3, itemGap: 24,
    icon: 'rect', padding: [17, 21, 17, 14], backgroundColor: '#fff', borderColor: '#d6d6d6', borderWidth: 2.5,
    borderRadius: 8, selectedMode: false,
    textStyle: {fontSize: 33, fontFamily: FONT, color: '#000', padding: [0, 0, 0, 25]}}
});
</script></body></html>
